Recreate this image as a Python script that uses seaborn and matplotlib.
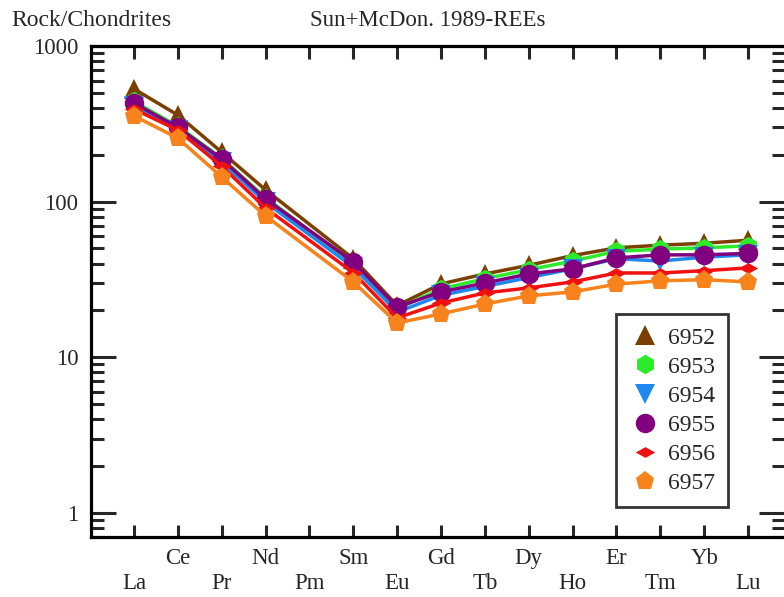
import pandas as pd
import numpy as np
import matplotlib
matplotlib.use("Agg")
import matplotlib.pyplot as plt
from matplotlib.lines import Line2D
from matplotlib.ticker import LogLocator, NullFormatter, FixedLocator
import seaborn as sns

# REE order on the x axis (Pm has no data)
elements = ["La", "Ce", "Pr", "Nd", "Pm", "Sm", "Eu", "Gd", "Tb", "Dy", "Ho", "Er", "Tm", "Yb", "Lu"]
measured = ["La", "Ce", "Pr", "Nd", "Sm", "Eu", "Gd", "Tb", "Dy", "Ho", "Er", "Tm", "Yb", "Lu"]

samples = ["6952", "6953", "6954", "6955", "6956", "6957"]
s6952 = [530, 360, 208, 119, 43, 21.5, 29.6, 34.3, 39, 45, 50.5, 52.5, 54, 56.5]
s6953 = [440, 305, 190, 106, 40, 20.5, 27.5, 32, 36.5, 41.5, 48, 49.5, 50.5, 52]
s6954 = [410, 290, 180, 99, 38, 19.5, 25, 28.5, 32.5, 37, 43, 41.5, 44, 45.5]
s6955 = [430, 300, 188, 104, 41, 21, 26.3, 30, 34.3, 37, 43.5, 45.5, 45.5, 46.5]
s6956 = [393, 288, 169, 91, 35, 17.9, 22.3, 25.9, 27.9, 30.5, 34.8, 34.8, 36, 37.5]
s6957 = [355, 256, 144, 81, 30.5, 16.6, 19, 22, 24.8, 26.3, 29.5, 31, 31.5, 30.5]
values = [s6952, s6953, s6954, s6955, s6956, s6957]

colors = ["#7B3F00", "#2BEB2B", "#1E88F0", "#800080", "#F01010", "#F8821C"]
flat_diamond = [(-1, 0), (0, 0.55), (1, 0), (0, -0.55), (-1, 0)]
markers = ["^", "h", "v", "o", flat_diamond, "p"]

rows = []
for name, vals in zip(samples, values):
    for el, v in zip(measured, vals):
        rows.append({"sample": name, "pos": elements.index(el), "value": v})
df = pd.DataFrame(rows)

sns.set_style("ticks")
plt.rcParams["font.family"] = ["Liberation Serif", "DejaVu Serif"]
plt.rcParams["font.size"] = 16.5

fig = plt.figure(figsize=(7.84, 5.97), dpi=100)
ax = fig.add_axes([91 / 784, 60 / 597, 693 / 784, 491 / 597])

sns.lineplot(data=df, x="pos", y="value", hue="sample", style="sample",
             palette=dict(zip(samples, colors)),
             markers=dict(zip(samples, markers)), dashes=False,
             markersize=14, markeredgewidth=0, linewidth=2.5,
             legend=False, ax=ax, sort=False)

ax.set_yscale("log")
ax.set_ylim(0.70, 1000)
ax.set_xlim(-0.98, 14.82)
ax.set_xlabel("")
ax.set_ylabel("")

ax.yaxis.set_major_locator(FixedLocator([1, 10, 100, 1000]))
ax.yaxis.set_minor_locator(LogLocator(base=10, subs=np.arange(2, 10)))
ax.yaxis.set_minor_formatter(NullFormatter())
ax.set_yticklabels(["1", "10", "100", "1000"])

ax.set_xticks(range(len(elements)))
ax.set_xticklabels([("\n" + e) if i % 2 == 0 else e for i, e in enumerate(elements)],
                   linespacing=1.25)

ax.tick_params(axis="x", which="major", direction="in", top=True, bottom=True,
               length=9, width=2.2, pad=8)
ax.tick_params(axis="y", which="major", direction="in", left=True, right=True,
               length=18, width=2.2, pad=9)
ax.tick_params(axis="y", which="minor", direction="in", left=True, right=True,
               length=9, width=2.2)
for side in ["left", "bottom", "top"]:
    ax.spines[side].set_linewidth(2.3)
    ax.spines[side].set_color("black")
ax.spines["right"].set_visible(False)

handles = [Line2D([], [], linestyle="None", marker=m, color=c, markersize=14,
                  markeredgewidth=0) for m, c in zip(markers, colors)]
leg = ax.legend(handles, samples, loc="lower left", bbox_to_anchor=(0.758, 0.061),
                borderaxespad=0, frameon=True, fancybox=False, fontsize=17,
                labelspacing=0.32, handletextpad=0.35, borderpad=0.55,
                handlelength=1.3)
leg.get_frame().set_edgecolor("black")
leg.get_frame().set_linewidth(2)

fig.text(11 / 784, 1 - 20 / 597, "Rock/Chondrites", fontsize=17, va="center", ha="left")
fig.text(428 / 784, 1 - 20 / 597, "Sun+McDon. 1989-REEs", fontsize=16.5, va="center", ha="center")

fig.savefig("out.png", dpi=100)
